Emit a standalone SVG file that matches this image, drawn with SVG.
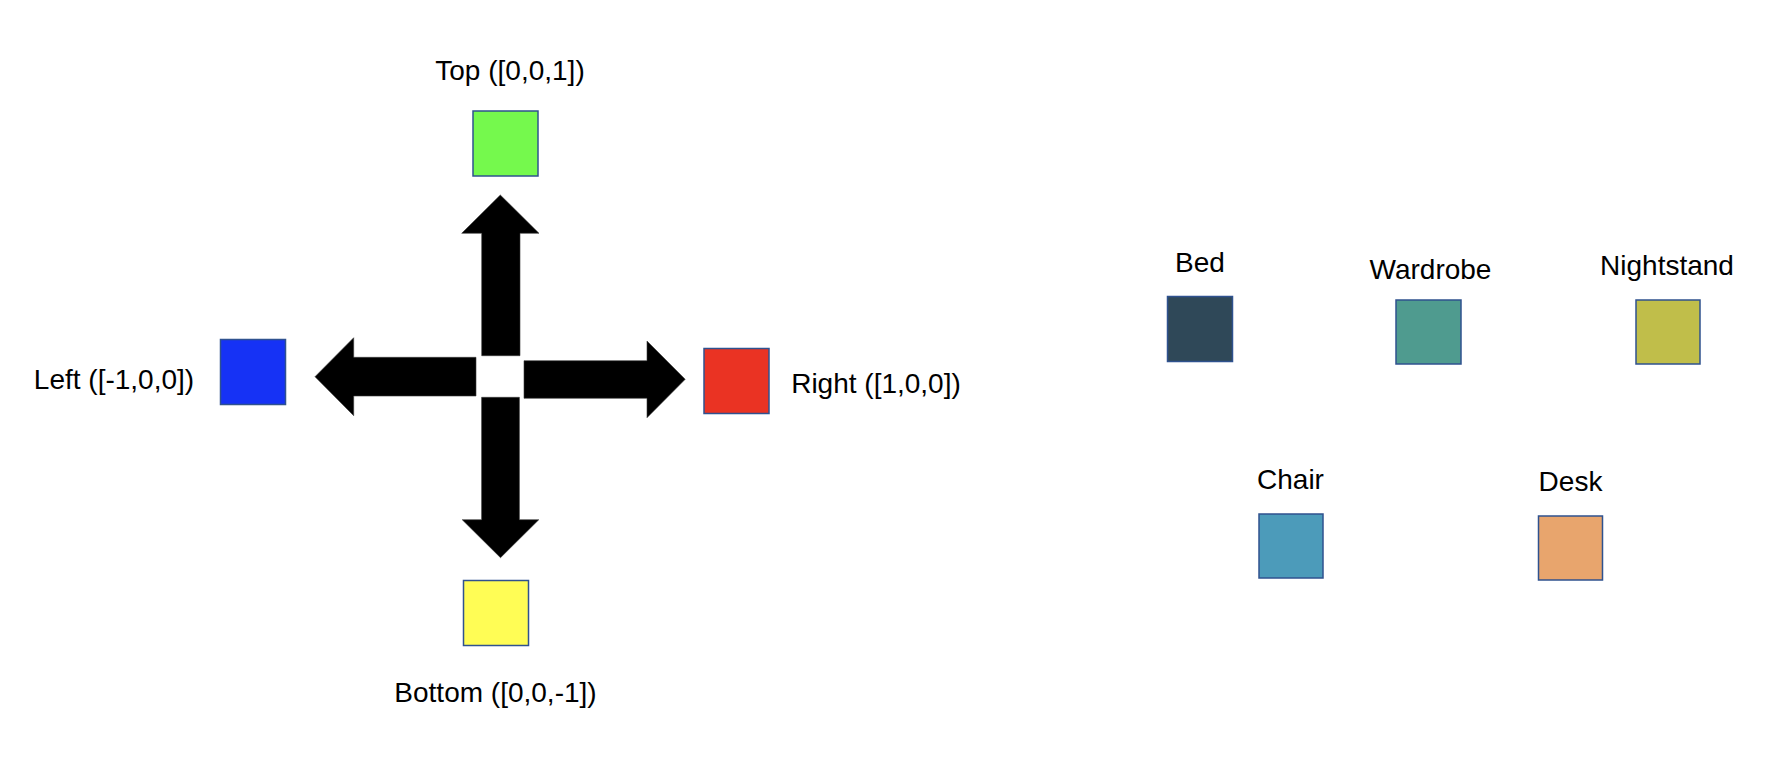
<svg xmlns="http://www.w3.org/2000/svg" width="1792" height="768" viewBox="0 0 1792 768">
<style>
  .box { stroke: #2F528F; stroke-width: 1.5; }
  .lbl { font-family: "Liberation Sans", Arial, sans-serif; font-size: 28px; fill: #000; text-anchor: middle; }
  .arrow { fill: #000; stroke: #3a3a3a; stroke-width: 0.6; }
</style>
<rect width="1792" height="768" fill="#fff"/>
<g id="connectors">
  <polygon id="arrow-up" class="arrow" points="500.3,195 539,233.3 520,233.3 520,355.7 481.7,355.7 481.7,233.3 461.7,233.3"/>
  <polygon id="arrow-left" class="arrow" points="315,376.7 353.7,337.7 353.7,357.3 476,357.3 476,396 353.7,396 353.7,415.7"/>
  <polygon id="arrow-right" class="arrow" points="685.2,379.3 647,341 647,360.7 524,360.7 524,398.3 647,398.3 647,417.7"/>
  <polygon id="arrow-down" class="arrow" points="500.5,557.7 538.8,519.7 519.4,519.7 519.4,397.3 481.6,397.3 481.6,519.7 462.2,519.7"/>
</g>
<g id="node-top">
  <rect class="box" x="473" y="111" width="65" height="65" fill="#75F94D"/>
  <text class="lbl" x="510" y="80">Top ([0,0,1])</text>
</g>
<g id="node-left">
  <rect class="box" x="220.5" y="339.5" width="65" height="65" fill="#1632F5"/>
  <text class="lbl" x="114" y="389">Left ([-1,0,0])</text>
</g>
<g id="node-right">
  <rect class="box" x="704" y="348.5" width="65" height="65" fill="#EA3323"/>
  <text class="lbl" x="876" y="393">Right ([1,0,0])</text>
</g>
<g id="node-bottom">
  <rect class="box" x="463.5" y="580.5" width="65" height="65" fill="#FFFD55"/>
  <text class="lbl" x="495.5" y="702">Bottom ([0,0,-1])</text>
</g>
<g id="node-bed">
  <rect class="box" x="1167.5" y="296.5" width="65" height="65" fill="#2F4858"/>
  <text class="lbl" x="1200" y="272">Bed</text>
</g>
<g id="node-wardrobe">
  <rect class="box" x="1396" y="300" width="65" height="64" fill="#4F9B8F"/>
  <text class="lbl" x="1430.5" y="279">Wardrobe</text>
</g>
<g id="node-nightstand">
  <rect class="box" x="1636" y="300" width="64" height="64" fill="#C0BE4A"/>
  <text class="lbl" x="1667" y="275">Nightstand</text>
</g>
<g id="node-chair">
  <rect class="box" x="1259" y="514" width="64" height="64" fill="#4C9BBA"/>
  <text class="lbl" x="1290.5" y="489">Chair</text>
</g>
<g id="node-desk">
  <rect class="box" x="1538.5" y="516" width="64" height="64" fill="#E8A56D"/>
  <text class="lbl" x="1570.5" y="491">Desk</text>
</g>
</svg>
